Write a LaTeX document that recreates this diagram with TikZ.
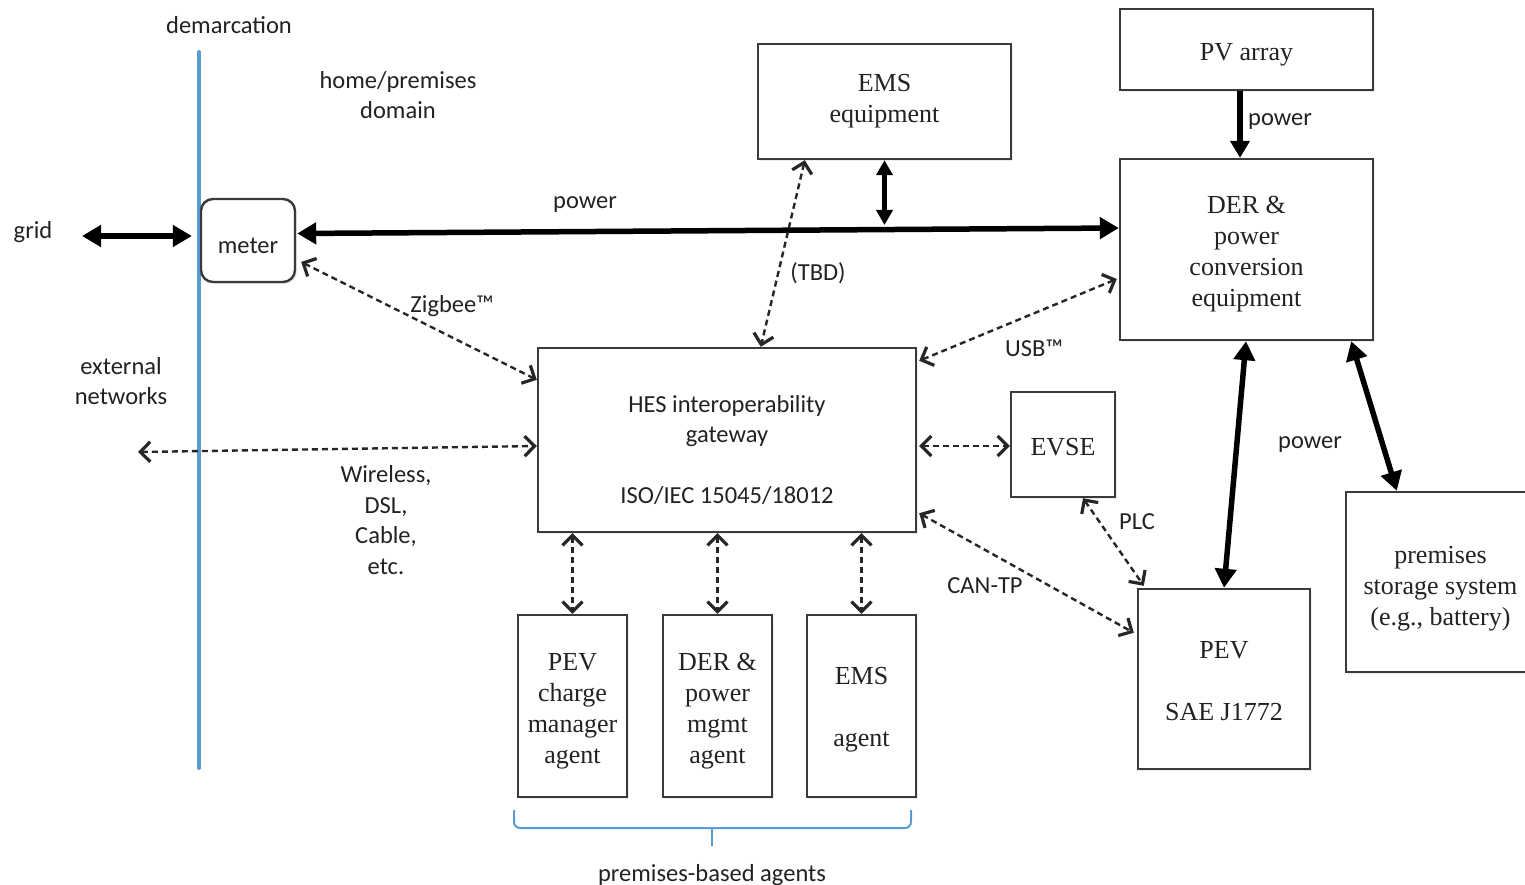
\documentclass[tikz,border=0pt]{standalone}
\usepackage{fontspec}
\setmainfont{Liberation Serif}
\newfontfamily\sansf{Carlito}
\usetikzlibrary{arrows.meta,shadows,calc}
\definecolor{demblue}{HTML}{5B9BD5}
\definecolor{txt}{HTML}{222222}
\definecolor{edgec}{HTML}{3A3A3A}
\begin{document}
\begin{tikzpicture}[x=1pt,y=-1pt,
  box/.style={draw=edgec, line width=2.4pt, fill=white, inner sep=0pt,
    drop shadow={shadow xshift=2pt,shadow yshift=-2pt,opacity=0.15}},
  btxt/.style={text=txt, align=center, inner sep=0pt, font=\fontsize{26}{31}\selectfont},
  lbl/.style={text=txt, align=center, inner sep=0pt, font=\sansf\fontsize{24.5}{30.5}\selectfont},
  pwr/.style={line width=5.5pt, black, {Triangle[length=19pt,width=21pt]}-{Triangle[length=19pt,width=21pt]}},
  pwrs/.style={line width=4.5pt, black, {Triangle[length=15pt,width=16pt]}-{Triangle[length=15pt,width=16pt]}},
  dsh/.style={line width=2.4pt, black!85, dash pattern=on 6pt off 4pt,
    {Straight Barb[length=10pt,width=20pt,line width=3.2pt]}-{Straight Barb[length=10pt,width=20pt,line width=3.2pt]}},
  brc/.style={demblue, line width=2pt}
]
\clip (0,0) rectangle (1525,885);
\fill[white] (0,0) rectangle (1525,885);

% demarcation line
\coordinate (dtop) at (199,52);
\coordinate (dbot) at (199,768);
\draw[demblue, line width=4pt, line cap=round] (dtop) -- (dbot);

% boxes
\node[box, rounded corners=12pt, minimum width=94pt, minimum height=83pt,
  label={[lbl,yshift=-5pt]center:meter}] (meter) at (248,240.5) {};
\node[box, minimum width=253pt, minimum height=115pt,
  label={[btxt,yshift=0pt]center:{EMS\\equipment}}] (ems) at (884.5,101.5) {};
\node[box, minimum width=253pt, minimum height=81pt,
  label={[btxt,yshift=-5pt]center:{PV array}}] (pv) at (1246.5,49.5) {};
\node[box, minimum width=253pt, minimum height=181pt,
  label={[btxt,yshift=-5pt]center:{DER \&\\power\\conversion\\equipment}}] (der) at (1246.5,249.5) {};
\node[box, minimum width=378pt, minimum height=184pt,
  label={[lbl,yshift=-10pt]center:{HES interoperability\\gateway\\[30.5pt]ISO/IEC 15045/18012}}] (hes) at (727,440) {};
\node[box, minimum width=104pt, minimum height=105pt,
  label={[btxt,yshift=-3pt]center:EVSE}] (evse) at (1063,444.5) {};
\node[box, minimum width=172pt, minimum height=180pt,
  label={[btxt,yshift=-2pt]center:{PEV\\[31pt]SAE J1772}}] (pev) at (1224,679) {};
\node[box, minimum width=189pt, minimum height=180pt,
  label={[btxt,yshift=-7pt]center:{premises\\storage system\\(e.g., battery)}}] (store) at (1440.5,582) {};
\node[box, minimum width=109pt, minimum height=182pt,
  label={[btxt,yshift=-5pt]center:{PEV\\charge\\manager\\agent}}] (ag1) at (572.5,706) {};
\node[box, minimum width=109pt, minimum height=182pt,
  label={[btxt,yshift=-5pt]center:{DER \&\\power\\mgmt\\agent}}] (ag2) at (717.5,706) {};
\node[box, minimum width=109pt, minimum height=182pt,
  label={[btxt,yshift=-4pt]center:{EMS\\[31pt]agent}}] (ag3) at (861.5,706) {};

% labels
\node[lbl] (tdem) at (229,25) {demarcation};
\node[lbl] (thome) at (398,95) {home/premises\\domain};
\node[lbl] (tgrid) at (33,232) {grid};
\node[lbl] (tpow1) at (585,205) {power};
\node[lbl] (ttbd) at (818,273) {(TBD)};
\node[lbl] (tpow2) at (1280,122) {power};
\node[lbl] (tzig) at (452,306) {Zigbee™};
\node[lbl] (tusb) at (1034,348) {USB™};
\node[lbl] (text) at (121,381) {external\\networks};
\node[lbl] (twir) at (386,520) {Wireless,\\DSL,\\Cable,\\etc.};
\node[lbl] (tplc) at (1137,522) {PLC};
\node[lbl] (tcan) at (985,586) {CAN-TP};
\node[lbl] (tpow3) at (1310,445) {power};
\node[lbl] (tagents) at (712,875) {premises-based agents};

% power connectors
\coordinate (ga) at (82,236);
\draw[pwr] (ga) -- ([xshift=-8pt,yshift=4.5pt]meter.west);
\draw[pwr] ([xshift=1pt,yshift=7pt]meter.east) -- ([yshift=21.5pt]der.west);
\coordinate (pj) at (884.5,225);
\draw[pwrs] (ems.south) -- (pj);
\draw[line width=5.5pt, -{Triangle[length=17pt,width=19pt]}] ([xshift=-6.5pt]pv.south) -- ([xshift=-6.5pt]der.north);
\draw[pwr] ([xshift=-0.5pt]der.south) -- (pev.north);
\draw[pwr] ([xshift=-23pt]der.south east) -- ([xshift=52pt]store.north west);

% data connectors
\draw[dsh] ([xshift=5pt,yshift=-21.5pt]meter.east) -- ([yshift=-33pt]hes.north west);
\draw[dsh] ([xshift=48pt]ems.south west) -- ([xshift=224pt]hes.north west);
\draw[dsh] ([xshift=-2pt,yshift=-29.5pt]der.west) -- ([xshift=2pt,yshift=-14pt]hes.north east);
\coordinate (ext) at (138,452);
\draw[dsh] (ext) -- ([yshift=-6pt]hes.west);
\draw[dsh] ([xshift=2pt,yshift=-6pt]hes.east) -- ([yshift=-1.5pt]evse.west);
\draw[dsh] ([xshift=20pt]evse.south) -- ([xshift=7pt,yshift=2pt]pev.north west);
\draw[dsh] ([xshift=2pt,yshift=20pt]hes.south east) -- ([xshift=-3pt,yshift=-45pt]pev.north west);
\draw[dsh] (ag1.north |- hes.south) -- (ag1.north);
\draw[dsh] (ag2.north |- hes.south) -- (ag2.north);
\draw[dsh] (ag3.north |- hes.south) -- (ag3.north);

% brace
\draw[brc, rounded corners=6pt] (514,810) -- (514,828) -- (911,828) -- (911,810);
\draw[brc] (712,828) -- (712,846);
\end{tikzpicture}
\end{document}
